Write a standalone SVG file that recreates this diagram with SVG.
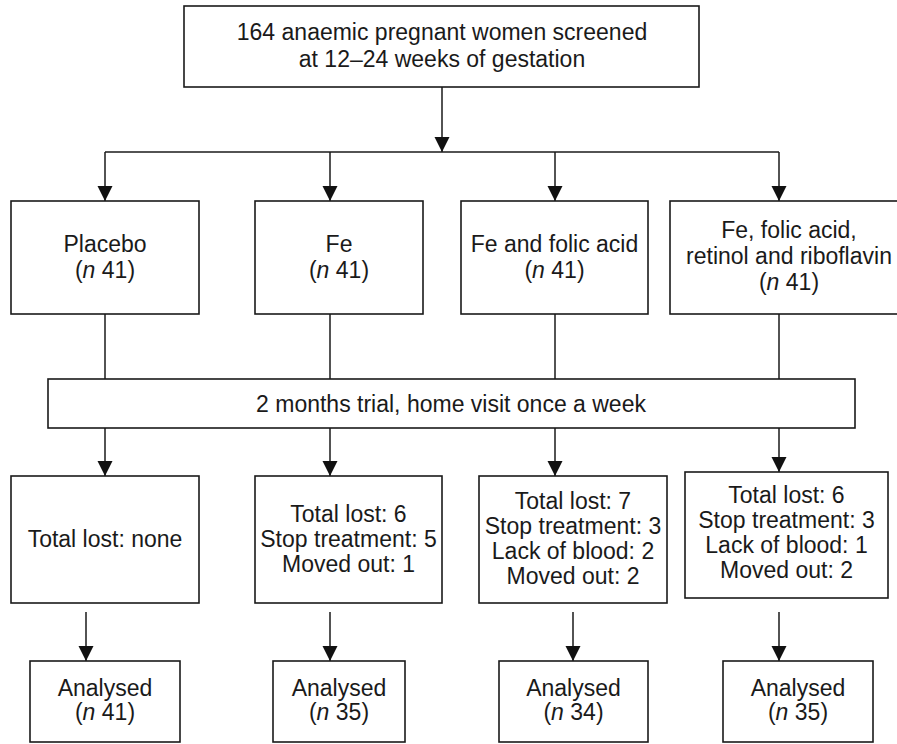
<svg xmlns="http://www.w3.org/2000/svg" width="897" height="744" viewBox="0 0 897 744">
<style>
rect.box{fill:#fff;stroke:#1a1a1a;stroke-width:1.6}
.c line{stroke:#1a1a1a;stroke-width:1.5}
text{font-family:"Liberation Sans",Arial,sans-serif;font-size:23px;fill:#1a1a1a;text-anchor:middle}
.i{font-style:italic}
</style>
<defs>
<marker id="ah" markerUnits="userSpaceOnUse" markerWidth="16" markerHeight="16" viewBox="0 0 16 16" refX="15" refY="8" orient="auto">
<path d="M0,0.5 L15,8 L0,15.5 Z" fill="#111"/>
</marker>
</defs>
<rect width="897" height="744" fill="#fff"/>
<g class="c" id="connectors">
<line x1="442" y1="87" x2="442" y2="152" marker-end="url(#ah)"/>
<line x1="105" y1="152" x2="779" y2="152"/>
<line x1="105" y1="152" x2="105" y2="201" marker-end="url(#ah)"/>
<line x1="330" y1="152" x2="330" y2="201" marker-end="url(#ah)"/>
<line x1="555" y1="152" x2="555" y2="201" marker-end="url(#ah)"/>
<line x1="779" y1="152" x2="779" y2="201" marker-end="url(#ah)"/>
<line x1="105" y1="314" x2="105" y2="379"/>
<line x1="330" y1="314" x2="330" y2="379"/>
<line x1="555" y1="314" x2="555" y2="379"/>
<line x1="779" y1="314" x2="779" y2="379"/>
<line x1="105" y1="428" x2="105" y2="476" marker-end="url(#ah)"/>
<line x1="330" y1="428" x2="330" y2="476" marker-end="url(#ah)"/>
<line x1="555" y1="428" x2="555" y2="476" marker-end="url(#ah)"/>
<line x1="779" y1="428" x2="779" y2="472" marker-end="url(#ah)"/>
<line x1="86" y1="612" x2="86" y2="661" marker-end="url(#ah)"/>
<line x1="330" y1="612" x2="330" y2="661" marker-end="url(#ah)"/>
<line x1="573" y1="612" x2="573" y2="661" marker-end="url(#ah)"/>
<line x1="779" y1="612" x2="779" y2="661" marker-end="url(#ah)"/>
</g>
<g id="screened">
<rect class="box" x="184" y="6" width="515" height="81"/>
<text x="442" y="40">164 anaemic pregnant women screened</text>
<text x="442" y="66.5">at 12–24 weeks of gestation</text>
</g>
<g id="placebo">
<rect class="box" x="11" y="201" width="188" height="113"/>
<text x="105" y="252">Placebo</text>
<text x="105" y="278">(<tspan class="i">n</tspan> 41)</text>
</g>
<g id="fe">
<rect class="box" x="255" y="201" width="168" height="113"/>
<text x="339" y="252">Fe</text>
<text x="339" y="278">(<tspan class="i">n</tspan> 41)</text>
</g>
<g id="fe-folic">
<rect class="box" x="461" y="201" width="187" height="113"/>
<text x="554.5" y="252">Fe and folic acid</text>
<text x="554.5" y="278">(<tspan class="i">n</tspan> 41)</text>
</g>
<g id="fe-folic-retinol">
<rect class="box" x="670" y="201" width="238" height="113"/>
<text x="789" y="238">Fe, folic acid,</text>
<text x="789" y="264">retinol and riboflavin</text>
<text x="789" y="290">(<tspan class="i">n</tspan> 41)</text>
</g>
<g id="trial">
<rect class="box" x="48" y="379" width="807" height="49"/>
<text x="451" y="412">2 months trial, home visit once a week</text>
</g>
<g id="lost1">
<rect class="box" x="11" y="476" width="188" height="127"/>
<text x="105" y="547">Total lost: none</text>
</g>
<g id="lost2">
<rect class="box" x="255" y="476" width="187" height="127"/>
<text x="348.5" y="521.5">Total lost: 6</text>
<text x="348.5" y="546.5">Stop treatment: 5</text>
<text x="348.5" y="571.5">Moved out: 1</text>
</g>
<g id="lost3">
<rect class="box" x="479" y="476" width="188" height="127"/>
<text x="573" y="508.5">Total lost: 7</text>
<text x="573" y="534">Stop treatment: 3</text>
<text x="573" y="559">Lack of blood: 2</text>
<text x="573" y="584">Moved out: 2</text>
</g>
<g id="lost4">
<rect class="box" x="685" y="472" width="203" height="126"/>
<text x="786.5" y="503">Total lost: 6</text>
<text x="786.5" y="528">Stop treatment: 3</text>
<text x="786.5" y="553">Lack of blood: 1</text>
<text x="786.5" y="578">Moved out: 2</text>
</g>
<g id="analysed1">
<rect class="box" x="30" y="661" width="150" height="81"/>
<text x="105" y="696">Analysed</text>
<text x="105" y="720">(<tspan class="i">n</tspan> 41)</text>
</g>
<g id="analysed2">
<rect class="box" x="273" y="661" width="132" height="81"/>
<text x="339" y="696">Analysed</text>
<text x="339" y="720">(<tspan class="i">n</tspan> 35)</text>
</g>
<g id="analysed3">
<rect class="box" x="499" y="661" width="149" height="81"/>
<text x="573.5" y="696">Analysed</text>
<text x="573.5" y="720">(<tspan class="i">n</tspan> 34)</text>
</g>
<g id="analysed4">
<rect class="box" x="723" y="661" width="150" height="81"/>
<text x="798" y="696">Analysed</text>
<text x="798" y="720">(<tspan class="i">n</tspan> 35)</text>
</g>
</svg>
